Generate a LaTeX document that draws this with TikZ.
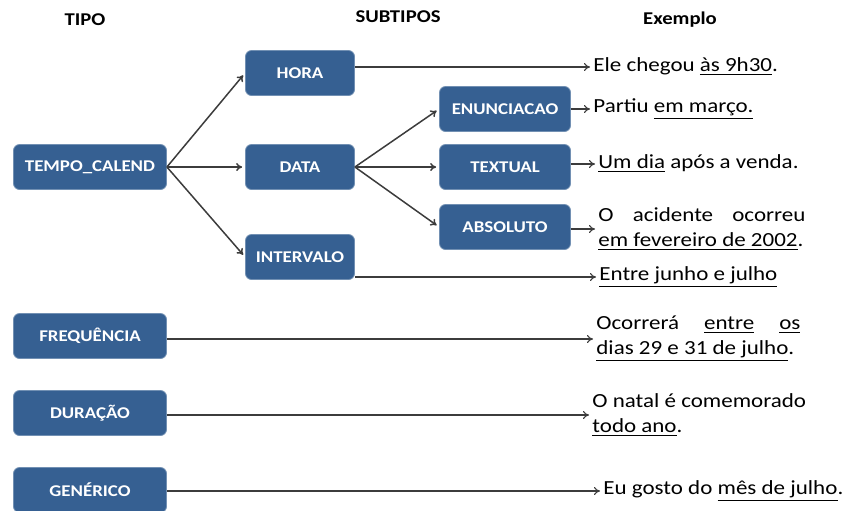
\documentclass[tikz,border=0pt]{standalone}
\usepackage{fontspec}
\setmainfont{Carlito}[FakeStretch=1.15]
\usetikzlibrary{arrows.meta,positioning}
\definecolor{boxblue}{RGB}{54,96,146}
\definecolor{linegray}{RGB}{60,60,60}

\begin{document}
\begin{tikzpicture}[
  x=0.5pt,y=-0.5pt,
  box/.style={rectangle,draw=boxblue!70!white,fill=boxblue,rounded corners=3pt,text=white,
    font=\fontsize{8.2}{9}\selectfont\bfseries,minimum height=22.5pt,inner sep=1pt},
  tipo/.style={box,minimum width=76.5pt},
  sub/.style={box,minimum width=54.5pt},
  subsub/.style={box,minimum width=65.5pt},
  hd/.style={font=\fontsize{9}{10}\selectfont\bfseries},
  ex/.style={anchor=west,inner sep=0pt,font=\fontsize{10}{12.5}\selectfont,align=left},
  exj/.style={ex,align=justify,text width=#1},
  ar/.style={-{To[length=3pt,width=4pt]},linegray,line width=0.55pt,shorten >=1.5pt},
  tr/.style={ar,line width=0.75pt}
]
\useasboundingbox (0,0) rectangle (844,510);

% column headers
\node[hd] (hTipo) at (85,20) {TIPO};
\node[hd] (hSub) at (398,17) {SUBTIPOS};
\node[hd] (hEx) at (680,20) {Exemplo};

% types
\node[tipo] (tempo) at (90,167) {TEMPO\_CALEND};
\node[tipo] (freq) at (90,336) {FREQUÊNCIA};
\node[tipo] (dur) at (90,413) {DURAÇÃO};
\node[tipo] (gen) at (90,490) {GENÉRICO};

% subtypes
\node[sub] (hora) at (300,73) {HORA};
\node[sub] (data) at (300,167) {DATA};
\node[sub] (interv) at (300,257) {INTERVALO};
\node[subsub] (enun) at (505,109) {ENUNCIACAO};
\node[subsub] (textual) at (505,167) {TEXTUAL};
\node[subsub] (absol) at (505,227) {ABSOLUTO};

% examples
\node[ex] (exHora) at (593,67) {Ele chegou \underline{às 9h30}.};
\node[ex] (exEnun) at (593,109) {Partiu \underline{em março.}};
\node[ex] (exText) at (598,164) {\underline{Um dia} após a venda.};
\node[exj=103.5pt] (exAbs) at (598,229) {O acidente ocorreu \underline{em fevereiro de 2002}.};
\node[ex] (exInt) at (599,277) {\underline{Entre junho e julho}};
\node[exj=102pt] (exFreq) at (596,339) {Ocorrerá \underline{entre} \underline{os} \underline{dias 29 e 31 de julho}.};
\node[ex] (exDur) at (592,415) {O natal é comemorado\\\underline{todo ano}.};
\node[ex] (exGen) at (603,491) {Eu gosto do \underline{mês de julho}.};

% connectors
\draw[tr] (tempo.east) -- (hora.west);
\draw[tr] (tempo.east) -- (data.west);
\draw[tr] (tempo.east) -- (interv.west);
\draw[tr] (data.east) -- (enun.west);
\draw[tr] (data.east) -- (textual.west);
\draw[tr] (data.east) -- (absol.west);
\draw[ar] (hora.east |- exHora.west) -- (exHora.west);
\draw[ar] (enun.east) -- (exEnun.west);
\draw[ar] (textual.east |- exText.west) -- (exText.west);
\draw[ar] (absol.east |- exAbs.west) -- (exAbs.west);
\draw[ar] (interv.east |- exInt.west) -- (exInt.west);
\draw[ar] (freq.east |- exFreq.west) -- (exFreq.west);
\draw[ar] (dur.east |- exDur.west) -- (exDur.west);
\draw[ar] (gen.east |- exGen.west) -- (exGen.west);
\end{tikzpicture}
\end{document}
